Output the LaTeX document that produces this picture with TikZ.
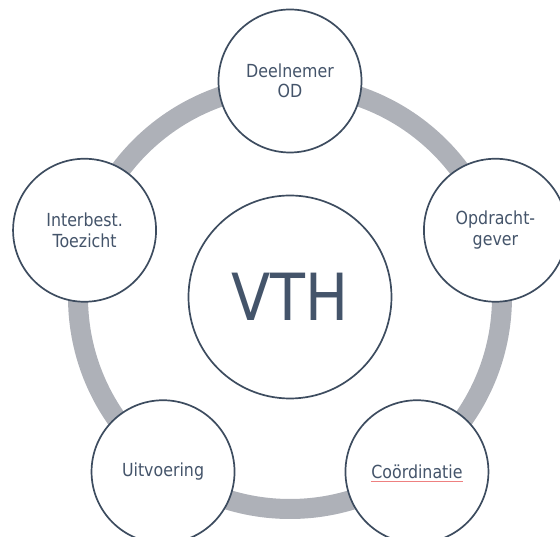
\documentclass[tikz,border=0pt]{standalone}
\usepackage{fontspec}
\setmainfont{DejaVu Sans}[FakeStretch=0.88]
\definecolor{slate}{HTML}{44546A}
\definecolor{ringgray}{HTML}{AEB1B8}
\definecolor{spell}{HTML}{EE8080}
\tikzset{
  role/.style={circle, draw=slate!90!black, line width=1.7pt, fill=white,
    minimum size=143pt, inner sep=0pt, text=slate, align=center,
    font=\fontsize{18}{20.5}\selectfont},
  hub/.style={circle, draw=slate!90!black, line width=1.7pt, fill=white,
    minimum size=203pt, inner sep=0pt, text=slate,
    font=\fontsize{65}{65}\selectfont},
  spellmark/.style={draw=spell, line width=0.9pt}
}
\begin{document}
\begin{tikzpicture}[x=1pt,y=1pt]
      \useasboundingbox (-290,-240) rectangle (270,297);
      \draw[ringgray, line width=20pt] (0,0) circle (212);
      \draw
        (0,0) node[hub] (c){VTH}
        (90:216) node[role] (0){Deelnemer\\OD}
        (18:216) node[role] (1){Opdracht-\\gever}
        (306:216) node[role] (2){Coördinatie}
        (234:216) node[role] (3){Uitvoering}
        (162:216) node[role] (4){Interbest.\\Toezicht};
      \path[spellmark] ([shift={(-46,-2.5)}]2.base) -- ([shift={(46,-2.5)}]2.base);
    \end{tikzpicture}
\end{document}
